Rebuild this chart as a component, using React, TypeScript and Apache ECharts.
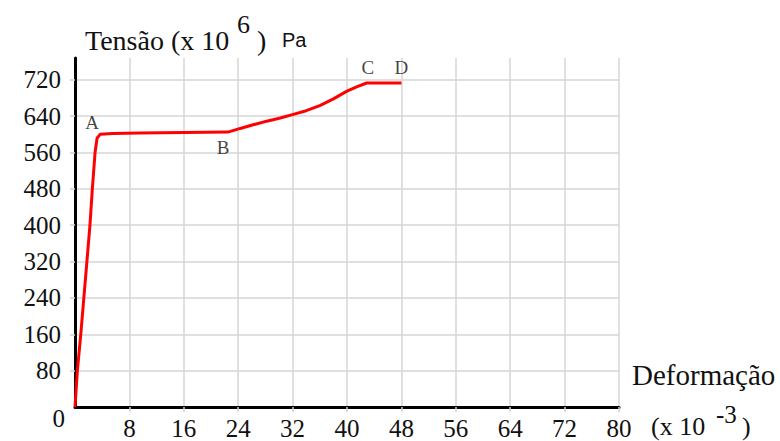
import React, { useEffect, useRef } from "react";
import * as echarts from "echarts";

// Stress–strain curve of a ductile metal: strain in 10^-3, stress in MPa
const strain = [0, 0.35, 0.85, 1.3, 1.75, 2.2, 2.55, 2.95, 3.25, 3.7, 5.5, 9.5, 16, 22.5, 24.3, 26.2, 28.2, 30.2, 32.1, 34, 36, 38, 40, 41.5, 42.9, 48];
const stress = [0, 80, 160, 240, 320, 400, 480, 560, 592, 600, 602, 603, 604, 605, 613, 621, 629, 636, 644, 652, 663, 678, 695, 705, 713, 713];

// Characteristic points of the curve
const pointNames = ["A", "B", "C", "D"];
const pointStrain = [3.7, 22.5, 42.9, 48];
const pointStress = [600, 605, 713, 713];

// Axis ranges
const xMin = 0;
const xMax = 80;
const xStep = 8;
const yMin = 0;
const yMax = 768;
const yStep = 80;

const SERIF = "'Liberation Serif', 'Times New Roman', serif";
const SANS = "'Liberation Sans', Arial, sans-serif";
const INK = "#111111";

const labelOffsets: Record<string, [number, number]> = {
  A: [-8, -12],
  B: [-5, 15],
  C: [1, -15],
  D: [0, -15],
};

export default function App() {
  const ref = useRef<HTMLDivElement>(null);

  useEffect(() => {
    if (!ref.current) return;
    const chart = echarts.init(ref.current, null, { renderer: "svg" });

    const curve = strain.map((x, i) => [x, stress[i]]);
    const points = pointNames.map((name, i) => ({
      value: [pointStrain[i], pointStress[i]],
      label: {
        show: true,
        formatter: name,
        position: "inside",
        offset: labelOffsets[name],
      },
    }));

    chart.setOption({
      animation: false,
      backgroundColor: "#ffffff",
      grid: { left: 75, right: 161, top: 58, bottom: 31, containLabel: false },
      xAxis: {
        type: "value",
        min: xMin,
        max: xMax,
        interval: xStep,
        axisLine: { show: true, onZero: false, lineStyle: { color: "#000", width: 3 } },
        axisTick: { show: true, length: 5, lineStyle: { color: "#cfcfcf", width: 1.5 } },
        axisLabel: {
          showMinLabel: false,
          margin: 9,
          fontFamily: SERIF,
          fontSize: 25,
          color: INK,
        },
        splitLine: { show: true, lineStyle: { color: "#d6d6d6", width: 1.5 } },
      },
      yAxis: {
        type: "value",
        min: yMin,
        max: yMax,
        interval: yStep,
        axisLine: { show: true, onZero: false, lineStyle: { color: "#000", width: 3 } },
        axisTick: { show: true, length: 5, lineStyle: { color: "#cfcfcf", width: 1.5 } },
        axisLabel: {
          showMinLabel: false,
          showMaxLabel: false,
          margin: 14,
          fontFamily: SERIF,
          fontSize: 25,
          color: INK,
        },
        splitLine: { show: true, showMaxLine: false, lineStyle: { color: "#d6d6d6", width: 1.5 } },
      },
      series: [
        {
          type: "line",
          data: curve,
          showSymbol: false,
          symbol: "none",
          lineStyle: { color: "#ff0000", width: 3 },
          z: 3,
        },
        {
          type: "scatter",
          data: points,
          symbolSize: 0,
          label: {
            fontFamily: SERIF,
            fontSize: 19,
            color: INK,
            align: "center",
            verticalAlign: "middle",
          },
          z: 4,
        },
      ],
      graphic: [
        // origin label shared by both axes
        { type: "text", x: 65, y: 418, style: { text: "0", font: `25px ${SERIF}`, fill: INK, textAlign: "right", textVerticalAlign: "middle" } },
        // vertical axis title
        { type: "text", x: 85, y: 40, style: { text: "Tensão (x 10", font: `28px ${SERIF}`, fill: INK, textVerticalAlign: "middle" } },
        { type: "text", x: 237, y: 24, style: { text: "6", font: `26px ${SERIF}`, fill: INK, textVerticalAlign: "middle" } },
        { type: "text", x: 257, y: 40, style: { text: ")", font: `28px ${SERIF}`, fill: INK, textVerticalAlign: "middle" } },
        { type: "text", x: 282, y: 40, style: { text: "Pa", font: `20px ${SANS}`, fill: INK, textVerticalAlign: "middle" } },
        // horizontal axis title
        { type: "text", x: 632, y: 375, style: { text: "Deformação", font: `29px ${SERIF}`, fill: INK, textVerticalAlign: "middle" } },
        { type: "text", x: 651, y: 426, style: { text: "(x 10", font: `26px ${SERIF}`, fill: INK, textVerticalAlign: "middle" } },
        { type: "text", x: 716, y: 414, style: { text: "-3", font: `25px ${SERIF}`, fill: INK, textVerticalAlign: "middle" } },
        { type: "text", x: 742, y: 426, style: { text: ")", font: `26px ${SERIF}`, fill: INK, textVerticalAlign: "middle" } },
      ],
    });

    return () => chart.dispose();
  }, []);

  return (
    <div
      ref={ref}
      style={{ position: "fixed", left: 0, top: 0, width: 780, height: 441, background: "#fff" }}
    />
  );
}
